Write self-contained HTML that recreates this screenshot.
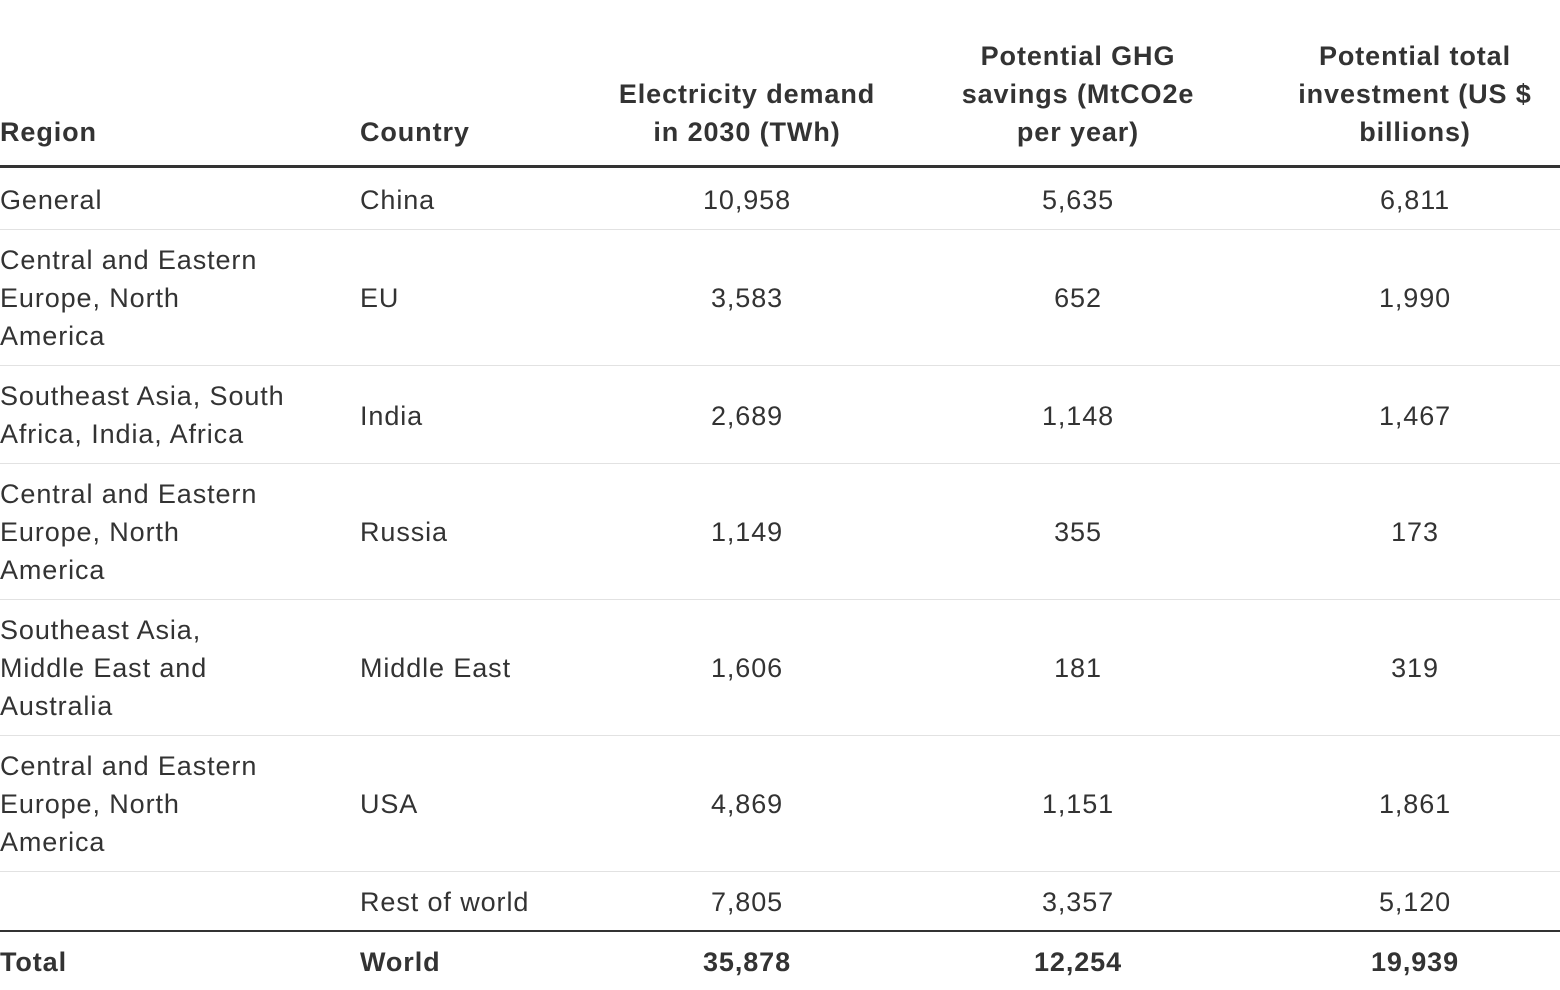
<!DOCTYPE html>
<html><head><meta charset="utf-8"><style>
html,body{margin:0;padding:0;background:#fff;}
body{width:1560px;height:990px;position:relative;overflow:hidden;font-family:"Liberation Sans",sans-serif;color:#333;font-size:27px;letter-spacing:0.9px;}
.t{position:absolute;line-height:38px;height:38px;white-space:nowrap;}
.c{transform:translateX(-50%);text-align:center;}
.b{font-weight:bold;}
.h{position:absolute;left:0;width:1560px;height:1px;background:#e2e2e2;}
</style></head><body>
<div class="t b" style="left:0;top:113px">Region</div>
<div class="t b" style="left:360px;top:113px">Country</div>
<div class="t b c" style="left:747px;top:75px">Electricity demand</div>
<div class="t b c" style="left:747px;top:113px">in 2030 (TWh)</div>
<div class="t b c" style="left:1078px;top:37px">Potential GHG</div>
<div class="t b c" style="left:1078px;top:75px">savings (MtCO2e</div>
<div class="t b c" style="left:1078px;top:113px">per year)</div>
<div class="t b c" style="left:1415px;top:37px">Potential total</div>
<div class="t b c" style="left:1415px;top:75px">investment (US $</div>
<div class="t b c" style="left:1415px;top:113px">billions)</div>
<div style="position:absolute;left:0;top:165px;width:1560px;height:3px;background:#333"></div>

<div class="t" style="left:0;top:181px">General</div>
<div class="t" style="left:360px;top:181px">China</div>
<div class="t c" style="left:747px;top:181px">10,958</div>
<div class="t c" style="left:1078px;top:181px">5,635</div>
<div class="t c" style="left:1415px;top:181px">6,811</div>
<div class="h" style="top:229px"></div>

<div class="t" style="left:0;top:241px">Central and Eastern</div>
<div class="t" style="left:0;top:279px">Europe, North</div>
<div class="t" style="left:0;top:317px">America</div>
<div class="t" style="left:360px;top:279px">EU</div>
<div class="t c" style="left:747px;top:279px">3,583</div>
<div class="t c" style="left:1078px;top:279px">652</div>
<div class="t c" style="left:1415px;top:279px">1,990</div>
<div class="h" style="top:365px"></div>

<div class="t" style="left:0;top:377px">Southeast Asia, South</div>
<div class="t" style="left:0;top:415px">Africa, India, Africa</div>
<div class="t" style="left:360px;top:397px">India</div>
<div class="t c" style="left:747px;top:397px">2,689</div>
<div class="t c" style="left:1078px;top:397px">1,148</div>
<div class="t c" style="left:1415px;top:397px">1,467</div>
<div class="h" style="top:463px"></div>

<div class="t" style="left:0;top:475px">Central and Eastern</div>
<div class="t" style="left:0;top:513px">Europe, North</div>
<div class="t" style="left:0;top:551px">America</div>
<div class="t" style="left:360px;top:513px">Russia</div>
<div class="t c" style="left:747px;top:513px">1,149</div>
<div class="t c" style="left:1078px;top:513px">355</div>
<div class="t c" style="left:1415px;top:513px">173</div>
<div class="h" style="top:599px"></div>

<div class="t" style="left:0;top:611px">Southeast Asia,</div>
<div class="t" style="left:0;top:649px">Middle East and</div>
<div class="t" style="left:0;top:687px">Australia</div>
<div class="t" style="left:360px;top:649px">Middle East</div>
<div class="t c" style="left:747px;top:649px">1,606</div>
<div class="t c" style="left:1078px;top:649px">181</div>
<div class="t c" style="left:1415px;top:649px">319</div>
<div class="h" style="top:735px"></div>

<div class="t" style="left:0;top:747px">Central and Eastern</div>
<div class="t" style="left:0;top:785px">Europe, North</div>
<div class="t" style="left:0;top:823px">America</div>
<div class="t" style="left:360px;top:785px">USA</div>
<div class="t c" style="left:747px;top:785px">4,869</div>
<div class="t c" style="left:1078px;top:785px">1,151</div>
<div class="t c" style="left:1415px;top:785px">1,861</div>
<div class="h" style="top:871px"></div>

<div class="t" style="left:360px;top:883px">Rest of world</div>
<div class="t c" style="left:747px;top:883px">7,805</div>
<div class="t c" style="left:1078px;top:883px">3,357</div>
<div class="t c" style="left:1415px;top:883px">5,120</div>
<div style="position:absolute;left:0;top:930px;width:1560px;height:2px;background:#333"></div>

<div class="t b" style="left:0;top:943px">Total</div>
<div class="t b" style="left:360px;top:943px">World</div>
<div class="t b c" style="left:747px;top:943px">35,878</div>
<div class="t b c" style="left:1078px;top:943px">12,254</div>
<div class="t b c" style="left:1415px;top:943px">19,939</div>
</body></html>
